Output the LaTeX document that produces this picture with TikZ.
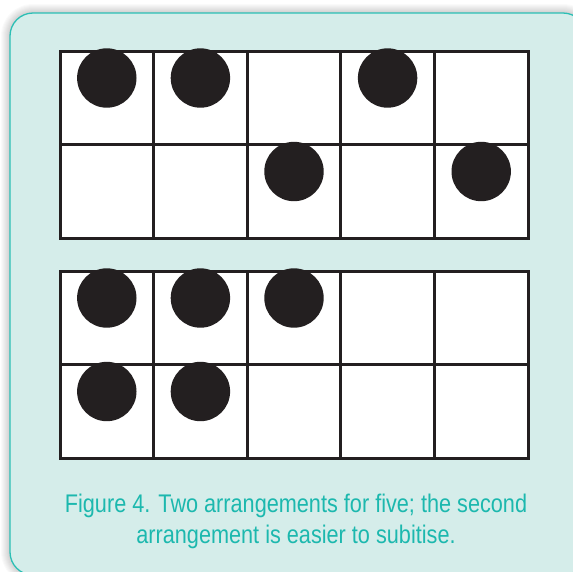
\documentclass[tikz,border=0pt]{standalone}
\usepackage{fontspec}
\setmainfont{Liberation Sans}[FakeStretch=0.85]
\definecolor{panelfill}{HTML}{D5EDEA}
\definecolor{panelline}{HTML}{2CBFB5}
\definecolor{captext}{HTML}{1CB8AE}
\definecolor{ink}{HTML}{231F20}
\begin{document}
\begin{tikzpicture}[x=1pt,y=-1pt,
  gridline/.style={draw=ink,line width=3pt},
  dot/.style={fill=ink},
  captxt/.style={anchor=base,inner sep=0pt,text=captext,font=\fontsize{25.5}{31}\selectfont}]
\useasboundingbox (0,0) rectangle (573,571);
\clip (0,0) rectangle (573,571);
\fill[white] (0,0) rectangle (573,571);
% shadow
\foreach \i in {1,...,9}
  \fill[black,opacity=0.018,rounded corners=23+\i] (10-\i,13-\i) rectangle (586+\i,575+\i);
% panel
\filldraw[fill=panelfill,draw=panelline,line width=1.3pt,rounded corners=23] (10,13) rectangle (586,575);
% grids
\foreach \top in {51,271}{
  \fill[white] (60,\top) rectangle (528,\top+187);
  \foreach \c in {1,...,4}
    \draw[gridline] (60+93.6*\c,\top) -- (60+93.6*\c,\top+187);
  \draw[gridline] (60,\top+93.5) -- (528,\top+93.5);
  \draw[gridline] (60,\top) rectangle (528,\top+187);
}
% dots, first arrangement
\foreach \c/\r in {1/0,2/0,4/0,3/1,5/1}
  \fill[dot] (60+93.6*\c-46.8,51+93.5*\r+27) circle (29.7);
% dots, second arrangement
\foreach \c/\r in {1/0,2/0,3/0,1/1,2/1}
  \fill[dot] (60+93.6*\c-46.8,271+93.5*\r+27) circle (29.7);
% caption
\node[captxt] (cap1) at (296,512) {Figure 4. Two arrangements for five; the second};
\node[captxt] (cap2) at (296,543) {arrangement is easier to subitise.};
\end{tikzpicture}
\end{document}
